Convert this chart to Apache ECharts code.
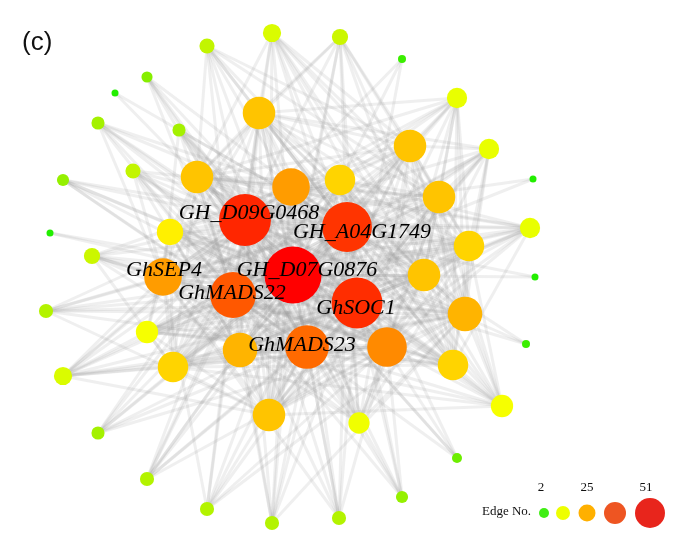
<!DOCTYPE html>
<html>
<head>
    <meta charset="utf-8">
    <title>Co-expression network</title>
    <script src="https://cdn.jsdelivr.net/npm/echarts@6/dist/echarts.min.js"></script>
</head>
<body style="margin:0;">
    <div id="main" style="width:695px;height:547px;"></div>
    <script type="text/javascript">
        // node data (x, y in figure pixels, edge count)
        var nodeNames = [
            '', '', '', '', '', '', '', '', '', '', '', '', '', '', '', '', '', '', '', '', '', '', '', '', '',
            '', '', '', '', '', '', '', '', '', '', '', '', '', '', '', '', '', '', '', '',
            'GhSEP4', 'GH_A04G1749', 'GH_D09G0468', 'GH_D07G0876', 'GhMADS22', 'GhSOC1', 'GhMADS23'
        ];
        var nodeX = [
            207, 272, 340, 402, 457, 489, 533, 530, 535, 526, 502, 457, 402, 339, 272, 207, 147, 98, 63, 46, 50, 63, 98, 115, 147,
            179, 133, 92, 170, 147, 173, 269, 359, 453, 465, 469, 424, 439, 410, 259, 197, 291, 340, 240, 387,
            163, 347, 245, 293, 233, 357, 307
        ];
        var nodeY = [
            46, 33, 37, 59, 98, 149, 179, 228, 277, 344, 406, 458, 497, 518, 523, 509, 479, 433, 376, 311, 233, 180, 123, 93, 77,
            130, 171, 256, 232, 332, 367, 415, 423, 365, 314, 246, 275, 197, 146, 113, 177, 187, 180, 350, 347,
            277, 227, 220, 275, 295, 303, 347
        ];
        var edgeNo = [
            10, 13, 11, 3, 15, 15, 2, 15, 2, 3, 17, 5, 7, 9, 9, 9, 9, 8, 13, 9, 2, 7, 8, 2, 6,
            8, 10, 11, 21, 17, 25, 27, 16, 25, 29, 25, 27, 27, 27, 27, 27, 32, 25, 29, 34,
            32, 44, 46, 51, 40, 45, 38
        ];
        var legendTicks = ['2', '25', '51'];
        var legendColors = ['#40ee14', '#eeff00', '#ffb000', '#ee5522', '#e8251c'];

        var myChart = echarts.init(document.getElementById('main'));

        var n = nodeX.length;
        function nodeId(i) { return nodeNames[i] || ('n' + i); }

        // build links that realise every node's edge count (Havel-Hakimi, smallest node first)
        var rest = edgeNo.slice();
        var done = [];
        var order = [];
        for (var i = 0; i < n; i++) order.push(i);
        order.sort(function (a, b) { return edgeNo[a] - edgeNo[b] || a - b; });
        var links = [];
        order.forEach(function (i) {
            done[i] = true;
            var cand = [];
            for (var j = 0; j < n; j++) {
                if (!done[j] && rest[j] > 0) cand.push(j);
            }
            cand.sort(function (a, b) { return rest[b] - rest[a] || a - b; });
            var k = Math.min(rest[i], cand.length);
            for (var m = 0; m < k; m++) {
                var j = cand[m];
                links.push({ source: nodeId(i), target: nodeId(j) });
                rest[j]--;
            }
            rest[i] = 0;
        });

        // colour ramp for edge count 2 .. 51
        var ramp = ['#22ee00', '#88ee00', '#c4f500', '#e4ff00', '#ffff00', '#ffe800', '#ffc800',
            '#ffa800', '#ff8400', '#ff6400', '#ff3c00', '#ff2000', '#ff0000'];
        var minE = 2, maxE = 51;
        function hexToRgb(h) {
            return [parseInt(h.substr(1, 2), 16), parseInt(h.substr(3, 2), 16), parseInt(h.substr(5, 2), 16)];
        }
        function colorFor(v) {
            var t = (v - minE) / (maxE - minE) * (ramp.length - 1);
            var a = Math.max(0, Math.min(ramp.length - 2, Math.floor(t)));
            var f = Math.min(1, t - a);
            var c1 = hexToRgb(ramp[a]), c2 = hexToRgb(ramp[a + 1]);
            return 'rgb(' + [0, 1, 2].map(function (k) { return Math.round(c1[k] + (c2[k] - c1[k]) * f); }).join(',') + ')';
        }
        function sizeFor(v) {
            return 7 + (v - minE) / (maxE - minE) * 50;
        }

        var labelOffset = {
            'GhSEP4': [1, -7],
            'GH_A04G1749': [15, 5],
            'GH_D09G0468': [4, -7],
            'GH_D07G0876': [14, -5],
            'GhMADS22': [-1, -2],
            'GhSOC1': [-1, 5],
            'GhMADS23': [-5, -2]
        };

        var nodes = [];
        for (var i = 0; i < n; i++) {
            var item = {
                name: nodeId(i),
                value: [nodeX[i], nodeY[i]],
                symbol: 'circle',
                symbolSize: sizeFor(edgeNo[i]),
                itemStyle: { color: colorFor(edgeNo[i]), opacity: 1 }
            };
            if (nodeNames[i]) {
                item.label = {
                    show: true,
                    position: 'inside',
                    offset: labelOffset[nodeNames[i]],
                    formatter: '{b}',
                    fontFamily: 'Liberation Serif',
                    fontStyle: 'italic',
                    fontSize: 22,
                    color: '#000'
                };
            }
            nodes.push(item);
        }

        var legendGraphic = [
            { type: 'text', left: 482, top: 505, style: { text: 'Edge No.', font: '13px "Liberation Serif"', fill: '#111' } }
        ];
        var cx = [544, 563, 587, 615, 650];
        var cr = [5, 7, 8.5, 11, 15];
        legendColors.forEach(function (c, i) {
            legendGraphic.push({ type: 'circle', shape: { cx: cx[i], cy: 513, r: cr[i] }, style: { fill: c } });
        });
        var tickX = [541, 587, 646];
        legendTicks.forEach(function (t, i) {
            legendGraphic.push({
                type: 'text', x: tickX[i], y: 488,
                style: { text: t, font: '13px "Liberation Serif"', fill: '#111', align: 'center', verticalAlign: 'middle' }
            });
        });
        legendGraphic.push({
            type: 'text', x: 22, y: 30,
            style: { text: '(c)', font: '26px "Liberation Sans"', fill: '#111' }
        });

        var option = {
            backgroundColor: '#fff',
            animation: false,
            grid: { left: 0, right: 0, top: 0, bottom: 0 },
            xAxis: { type: 'value', min: 0, max: 695, show: false },
            yAxis: { type: 'value', min: 0, max: 547, inverse: true, show: false },
            graphic: legendGraphic,
            series: [{
                type: 'graph',
                layout: 'none',
                coordinateSystem: 'cartesian2d',
                symbol: 'circle',
                data: nodes,
                links: links,
                silent: true,
                label: { show: false },
                itemStyle: { opacity: 1 },
                lineStyle: { color: '#9a9a9a', width: 3, opacity: 0.16, curveness: 0 },
                emphasis: { disabled: true }
            }]
        };
        myChart.setOption(option);
    </script>
</body>
</html>
